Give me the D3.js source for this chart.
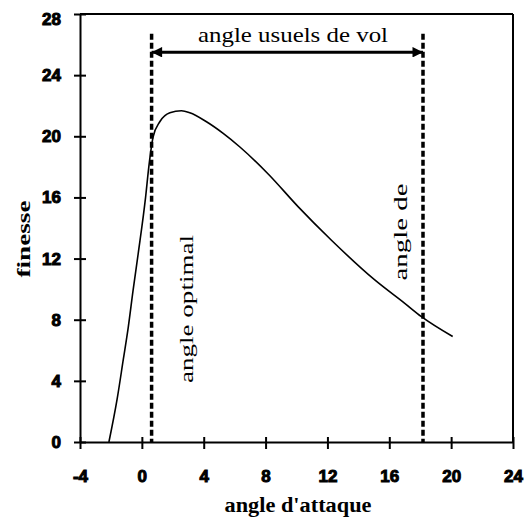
<!DOCTYPE html>
<html><head><meta charset="utf-8">
<script src="https://cdn.jsdelivr.net/npm/d3@7"></script>
<style>body{margin:0;background:#fff}svg{display:block}</style>
</head><body>
<svg id="chart" width="530" height="520"></svg>
<script>
const angle   = [-2.13,-1.6,-1.2,-0.88,-0.57,-0.24,0.24,0.45,0.73,1.16,1.81,2.56,3.1,4.18,5.26,6.34,8.2,10.1,12.26,15.06,17.0,18.08,20.1];
const finesse = [0,2.8,5.4,7.5,9.9,12.3,16,18,19.97,20.95,21.54,21.67,21.54,20.95,20.19,19.3,17.5,15.4,13.2,10.6,9.07,8.2,6.9];
const xTicks = [-4,0,4,8,12,16,20,24];
const yTicks = [0,4,8,12,16,20,24,28];
const markers = [0.63, 18.18];
const rangeTop = 26.7, arrowY = 25.5;

const svg = d3.select("#chart");
const m = {l:80, t:14, r:17, b:78};
const W = 530 - m.l - m.r, H = 520 - m.t - m.b;
const x = d3.scaleLinear().domain([-4,24]).range([m.l, m.l+W]);
const y = d3.scaleLinear().domain([0,28]).range([m.t+H, m.t]);

// frame
svg.append("line").attr("x1",x(-4)).attr("x2",x(24)).attr("y1",y(28)).attr("y2",y(28)).attr("stroke","#000").attr("stroke-width",2);
svg.append("line").attr("x1",x(24)).attr("x2",x(24)).attr("y1",y(28)).attr("y2",y(0)).attr("stroke","#000").attr("stroke-width",2);

// axes
const fmt = d => String(d);
const xAxis = svg.append("g").attr("transform",`translate(0,${y(0)})`)
  .call(d3.axisBottom(x).tickValues(xTicks).tickFormat(fmt).tickSizeInner(7).tickSizeOuter(0));
xAxis.selectAll(".tick line").attr("y1",-5).attr("stroke-width",2);
const yAxis = svg.append("g").attr("transform",`translate(${x(-4)},0)`)
  .call(d3.axisLeft(y).tickValues(yTicks).tickFormat(fmt).tickSizeInner(6).tickSizeOuter(0).tickPadding(13));
yAxis.selectAll(".tick line").attr("x1",6).attr("stroke-width",2);
[xAxis,yAxis].forEach(a=>{
  a.select(".domain").attr("stroke-width",2);
  a.attr("font-family","'Liberation Sans', Arial, sans-serif").attr("font-size",17).attr("font-weight","bold");
  a.selectAll("text").attr("fill","#000").attr("stroke","#000").attr("stroke-width",1).attr("paint-order","stroke");
});
xAxis.selectAll(".tick text").attr("dy","0.35em").attr("y",34);
yAxis.selectAll(".tick").filter(d=>d===28).select("text").attr("dy","0.6em");

// curve
svg.append("path")
  .datum(angle.map((a,i)=>[a,finesse[i]]))
  .attr("fill","none").attr("stroke","#000").attr("stroke-width",1.6)
  .attr("d", d3.line().x(d=>x(d[0])).y(d=>y(d[1])).curve(d3.curveMonotoneX));

// dashed markers
svg.selectAll(".mk").data(markers).enter().append("line")
  .attr("x1",d=>x(d)).attr("x2",d=>x(d)).attr("y1",y(rangeTop)).attr("y2",y(0))
  .attr("stroke","#000").attr("stroke-width",3.5).attr("stroke-dasharray","6,3");

// arrow
const defs = svg.append("defs");
defs.append("marker").attr("id","ah").attr("viewBox","0 0 10 10").attr("refX",10).attr("refY",5)
  .attr("markerWidth",5).attr("markerHeight",3.5).attr("markerUnits","strokeWidth").attr("orient","auto-start-reverse")
  .append("path").attr("d","M0,0L10,5L0,10z").attr("fill","#000");
svg.append("line").attr("x1",x(markers[0])).attr("x2",x(markers[1])).attr("y1",y(arrowY)).attr("y2",y(arrowY))
  .attr("stroke","#000").attr("stroke-width",3).attr("marker-start","url(#ah)").attr("marker-end","url(#ah)");

const serif = "'Liberation Serif','Times New Roman',serif";
svg.append("text").attr("x",293).attr("y",42).attr("text-anchor","middle")
  .attr("font-family",serif).attr("font-size",21).attr("textLength",190).attr("lengthAdjust","spacingAndGlyphs")
  .text("angle usuels de vol");
svg.append("text").attr("transform",`translate(193,309) rotate(-90)`).attr("text-anchor","middle")
  .attr("font-family",serif).attr("font-size",19).attr("textLength",148).attr("lengthAdjust","spacingAndGlyphs")
  .text("angle optimal");
svg.append("text").attr("transform",`translate(407,232) rotate(-90)`).attr("text-anchor","middle")
  .attr("font-family",serif).attr("font-size",19).attr("textLength",97).attr("lengthAdjust","spacingAndGlyphs")
  .text("angle de");

// axis titles
svg.append("text").attr("x",298).attr("y",512).attr("text-anchor","middle")
  .attr("font-family",serif).attr("font-weight","bold").attr("font-size",20).attr("textLength",147).attr("lengthAdjust","spacingAndGlyphs")
  .text("angle d'attaque");
svg.append("text").attr("transform",`translate(30,239) rotate(-90)`).attr("text-anchor","middle")
  .attr("font-family",serif).attr("font-weight","bold").attr("font-size",19).attr("textLength",77).attr("lengthAdjust","spacingAndGlyphs")
  .text("finesse");
</script>
</body></html>
